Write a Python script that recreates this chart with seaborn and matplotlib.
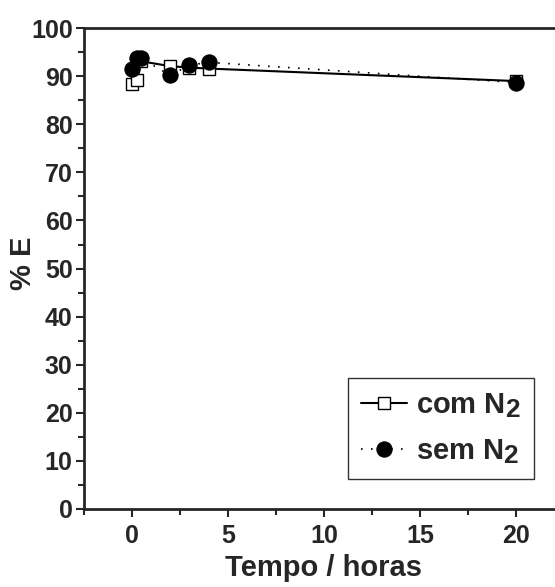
import numpy as np
import pandas as pd
import seaborn as sns
import matplotlib.pyplot as plt
import matplotlib._mathtext as mathtext_internal
from matplotlib.ticker import MultipleLocator

# data
tempo = [0, 0.25, 0.5, 2, 3, 4, 20]
com_n2 = [88.4, 89.2, 93.1, 92.1, 91.8, 91.6, 89.0]
sem_n2 = [91.6, 93.7, 93.7, 90.2, 92.3, 92.9, 88.7]

sns.set_style("ticks")
plt.rcParams['font.family'] = ['Liberation Sans', 'DejaVu Sans']
plt.rcParams['font.weight'] = 'bold'
plt.rcParams['mathtext.fontset'] = 'custom'
plt.rcParams['mathtext.rm'] = 'Liberation Sans:bold'
plt.rcParams['mathtext.bf'] = 'Liberation Sans:bold'
# subscript in the original is nearly full size
mathtext_internal.SHRINK_FACTOR = 0.9

fig = plt.figure(figsize=(5.55, 5.87), dpi=100)
ax = fig.add_axes([0.151, 0.133, 0.865, 0.819])

sns.lineplot(x=tempo, y=com_n2, ax=ax, color='black', linewidth=1.5,
             marker='s', markersize=9, markerfacecolor='white',
             markeredgecolor='black', markeredgewidth=1.0,
             label=r'com N$_\mathbf{2}$', zorder=3)
sns.lineplot(x=tempo, y=sem_n2, ax=ax, color='black', linewidth=1.2,
             linestyle=(0, (1, 5)),
             marker='o', markersize=11, markerfacecolor='black',
             markeredgecolor='black',
             label=r'sem N$_\mathbf{2}$', zorder=4)

ax.set_xlim(-2.5, 22.5)
ax.set_ylim(0, 100)
ax.xaxis.set_major_locator(MultipleLocator(5))
ax.xaxis.set_minor_locator(MultipleLocator(2.5))
ax.yaxis.set_major_locator(MultipleLocator(10))
ax.yaxis.set_minor_locator(MultipleLocator(5))
ax.tick_params(which='major', length=6, width=1.5, labelsize=18, direction='out')
ax.tick_params(which='minor', length=4, width=1.5, direction='out')
ax.tick_params(axis='x', which='major', pad=5)
ax.tick_params(axis='y', which='major', pad=2)
for lab in ax.get_xticklabels() + ax.get_yticklabels():
    lab.set_fontweight('bold')
for s in ax.spines.values():
    s.set_linewidth(2)
    s.set_visible(True)

ax.set_xlabel('Tempo / horas', fontsize=21, fontweight='bold', labelpad=4)
ax.set_ylabel('% E', fontsize=21, fontweight='bold')
ax.yaxis.set_label_coords(-0.098, 0.51)

leg = ax.legend(loc='lower right', bbox_to_anchor=(0.938, 0.062), fontsize=21,
                frameon=True, fancybox=False, edgecolor='black',
                handlelength=1.6, handletextpad=0.3, borderpad=0.45,
                labelspacing=0.6, borderaxespad=0)
leg.get_frame().set_linewidth(1.0)
for t in leg.get_texts():
    t.set_fontweight('bold')

fig.savefig('out.png', dpi=100)
